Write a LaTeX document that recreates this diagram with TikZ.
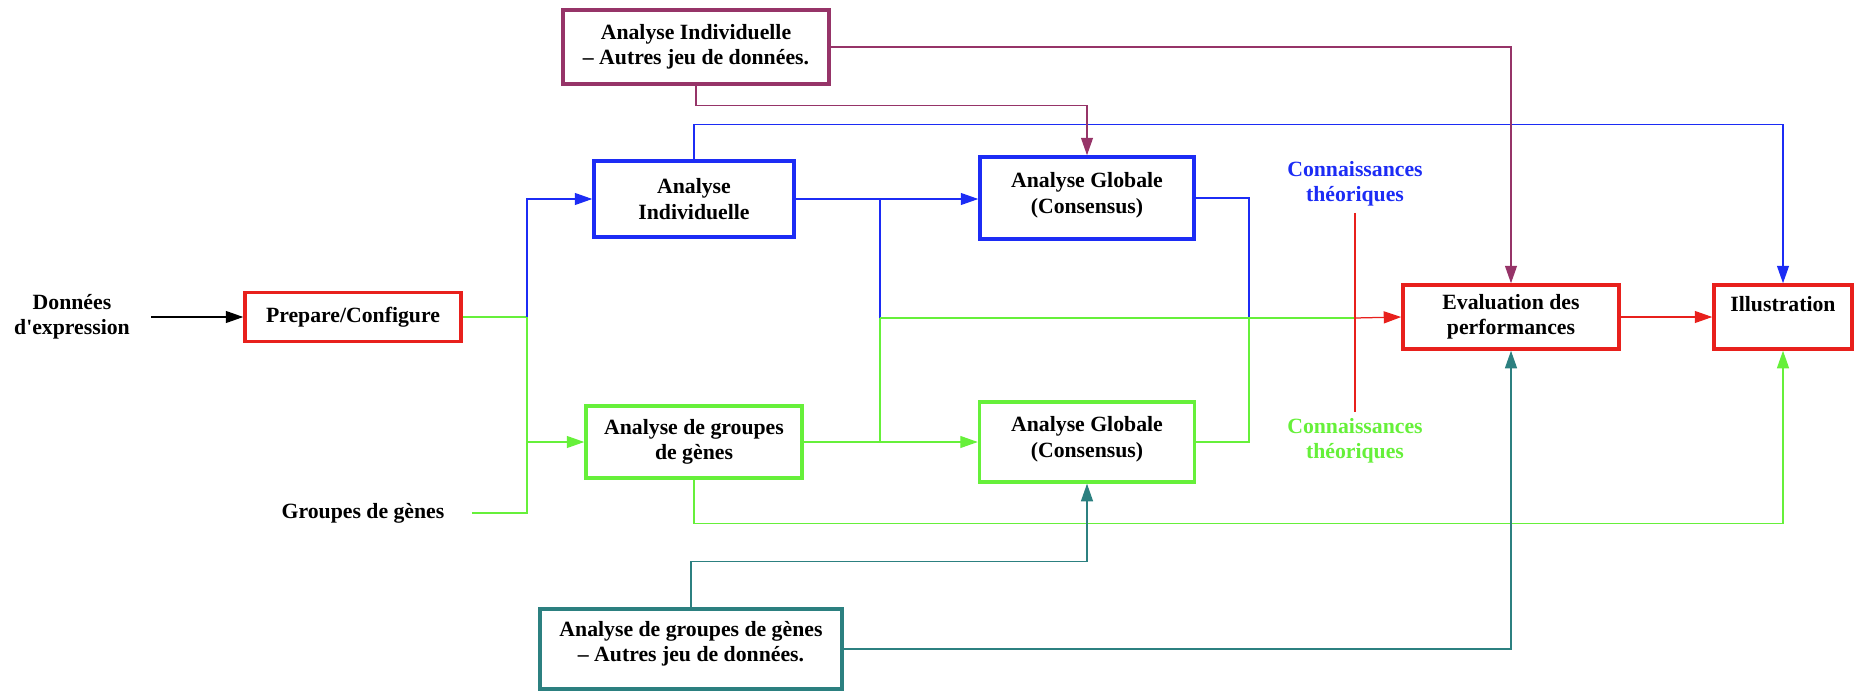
\documentclass[tikz,border=0pt]{standalone}
\usepackage{fontspec}
\setmainfont{Liberation Serif}
\usetikzlibrary{arrows.meta}

\definecolor{cred}{RGB}{232,32,28}
\definecolor{cblue}{RGB}{28,44,245}
\definecolor{cgreen}{RGB}{102,240,58}
\definecolor{cplum}{RGB}{150,52,104}
\definecolor{cteal}{RGB}{44,128,128}

\begin{document}
\begin{tikzpicture}[x=0.4pt,y=-0.4pt,
    box/.style={draw, line width=1.4pt, fill=white, align=center, inner sep=0pt,
        font=\bfseries\fontsize{8.7}{10.2}\selectfont},
    lbl/.style={align=center, font=\bfseries\fontsize{8.7}{10.2}\selectfont},
    wire/.style={line width=0.5pt},
    tip/.style={-{Triangle[length=7pt,width=4.8pt]}}]

\def\px{0.4pt}

\useasboundingbox (0,0) rectangle (1862,693);

%boxes
\node[box, draw=cred, minimum width=216*\px, minimum height=49*\px] (prep) at (353,317) {Prepare/Configure};
\node[box, draw=cblue, minimum width=200*\px, minimum height=76*\px] (indiv) at (694,199) {Analyse\\Individuelle};
\node[box, draw=cblue, minimum width=214*\px, minimum height=82*\px] (globA) at (1087,198) {Analyse Globale\\(Consensus)\\[-6pt]\mbox{}};
\node[box, draw=cgreen, minimum width=216*\px, minimum height=72*\px] (grp) at (694,442) {Analyse de groupes\\de gènes};
\node[box, draw=cgreen, minimum width=215*\px, minimum height=80*\px] (globB) at (1087,442) {Analyse Globale\\(Consensus)\\[-6pt]\mbox{}};
\node[box, draw=cred, minimum width=216*\px, minimum height=64*\px] (eval) at (1511,317) {Evaluation des\\performances};
\node[box, draw=cred, minimum width=138*\px, minimum height=64*\px] (illus) at (1783,317) {Illustration\\\mbox{}};
\node[box, draw=cplum, minimum width=266*\px, minimum height=74*\px] (autreI) at (696,47) {Analyse Individuelle\\– Autres jeu de données.};
\node[box, draw=cteal, minimum width=302*\px, minimum height=80*\px] (autreG) at (691,649) {Analyse de groupes de gènes\\– Autres jeu de données.\\[-4pt]\mbox{}};

%labels
\node[lbl] (donnees) at (72,317) {Données\\d\textquotesingle expression};
\node[lbl] (groupes) at (363,513) {Groupes de gènes};
\node[lbl, text=cblue] (connB) at (1355,184) {Connaissances\\théoriques};
\node[lbl, text=cgreen] (connG) at (1355,441) {Connaissances\\théoriques};

%junctions
\coordinate (sj) at (527,317);
\coordinate (mj) at (880,318);
\coordinate (gj) at (1249,318);
\coordinate (rj) at (1355,318);

%input edges
\draw[wire, tip, black, shorten <=5pt] (donnees.east) -- (prep.west);
\draw[wire, cgreen] (prep.east) -- (sj);
\draw[wire, cgreen, shorten <=7.5pt] (groupes.east) -| (sj);
\draw[wire, tip, cblue] (sj) |- (indiv.west);
\draw[wire, tip, cgreen] (sj) |- (grp.west);

%blue edges
\draw[wire, tip, cblue] (indiv.east) -- (indiv.east -| globA.west);
\draw[wire, cblue] (indiv.east) -| (mj);
\draw[wire, cblue] (globA.east) -| (gj);
\draw[wire, tip, cblue] (indiv.north) -- ++(0,-35) -| (illus.north);

%green edges
\draw[wire, tip, cgreen] (grp.east) -- (grp.east -| globB.west);
\draw[wire, cgreen] (grp.east) -| (mj);
\draw[wire, cgreen] (globB.east) -| (gj);
\draw[wire, cgreen] (mj) -- (rj);
\draw[wire, tip, cgreen] (grp.south) -- ++(0,44) -| (illus.south);

%red edges
\draw[wire, tip, cred] (rj) -- (eval.west);
\draw[wire, tip, cred] (eval.east) -- (illus.west);
\draw[wire, cred, shorten <=-1pt, shorten >=-1pt] (connB.south) -- (connG.north);

%other data sets
\draw[wire, tip, cplum] (autreI.east) -| (eval.north);
\draw[wire, tip, cplum] (autreI.south) -- ++(0,20) -| (globA.north);
\draw[wire, tip, cteal] (autreG.north) -- ++(0,-46) -| (globB.south);
\draw[wire, tip, cteal] (autreG.east) -| (eval.south);

\end{tikzpicture}
\end{document}
